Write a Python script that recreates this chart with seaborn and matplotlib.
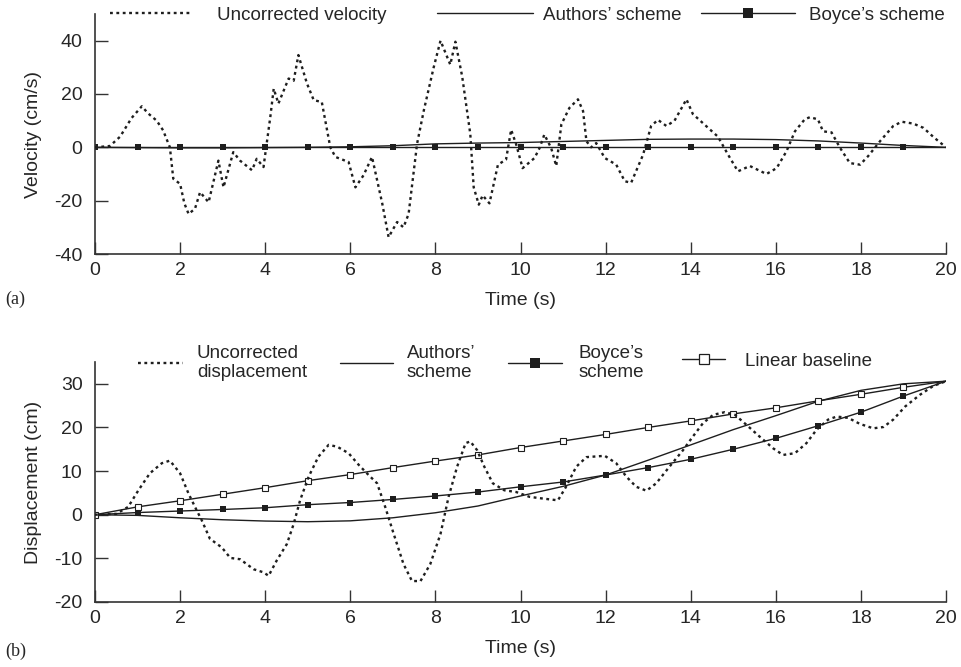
import matplotlib
matplotlib.use("Agg")
import matplotlib.pyplot as plt
import seaborn as sns
import pandas as pd
from matplotlib.lines import Line2D

# ---------------- data ----------------
vel_time = [0, 0.35, 0.59, 0.86, 1.1, 1.25, 1.45, 1.6, 1.76, 1.84, 2.0, 2.1, 2.2, 2.35, 2.47, 2.67,
            2.9, 3.02, 3.25, 3.41, 3.69, 3.8, 3.96, 4.12, 4.2, 4.31, 4.55, 4.67, 4.78, 4.98, 5.14,
            5.33, 5.53, 5.65, 5.96, 6.12, 6.31, 6.51, 6.75, 6.9, 7.1, 7.25, 7.37, 7.57, 7.73, 7.96,
            8.12, 8.35, 8.47, 8.63, 8.82, 8.9, 9.02, 9.11, 9.27, 9.47, 9.66, 9.78, 9.9, 10.05,
            10.33, 10.45, 10.56, 10.72, 10.84, 10.96, 11.15, 11.35, 11.47, 11.55, 11.66, 11.78,
            11.98, 12.25, 12.45, 12.6, 12.88, 13.07, 13.23, 13.43, 13.62, 13.9, 14.05, 14.41,
            14.64, 14.88, 15.11, 15.39, 15.78, 16.02, 16.25, 16.45, 16.68, 16.8, 16.99, 17.11,
            17.31, 17.51, 17.74, 17.98, 18.17, 18.45, 18.76, 18.96, 19.23, 19.47, 19.71, 20.0]
vel_uncorrected = [0, 0.5, 4, 11, 15.4, 12.7, 10, 6.4, 0, -11.8, -13.7, -21, -25, -23, -16.8, -20.6,
                   -5, -15, -1.8, -5, -8.6, -4.3, -7.4, 11.4, 22, 16.4, 25.8, 25, 34.6, 24, 17.7,
                   17, 0, -3.6, -5.5, -15, -10.5, -3.6, -21, -33.7, -28, -30, -25, 1.4, 14, 30,
                   40, 31, 39.6, 26.5, 5, -15, -21.5, -18, -21, -6.5, -4.6, 6.6, 1, -7.8,
                   -4, -0.2, 4.8, -0.2, -7, 8.6, 14.8, 18, 13.6, 2.3, 0, 1.6,
                   -4, -6.5, -12.7, -13.3, -2.8, 8, 10.3, 8, 10, 18, 12.5, 7.3,
                   4, -2.8, -9, -7, -10, -7.8, -1.5, 6, 10.5, 11.3, 10.5, 6,
                   5.6, -0.2, -5.9, -6.5, -3.3, 2.3, 8, 9.6, 8.9, 7.3, 3.8, 0]

int_time = [0, 1, 2, 3, 4, 5, 6, 7, 8, 9, 10, 11, 12, 13, 14, 15, 16, 17, 18, 19, 20]
vel_authors = [0, -0.1, -0.2, -0.2, -0.1, 0, 0.2, 0.6, 1.3, 1.6, 1.8, 2.2, 2.6, 3.0, 3.1, 3.1,
               2.9, 2.4, 1.6, 0.7, 0]
vel_boyce = [0, 0, 0, 0, 0, 0, 0, 0, 0, 0, 0, 0, 0, 0, 0, 0, 0, 0, 0, 0, 0]

disp_time = [0, 0.5, 0.78, 1.02, 1.29, 1.57, 1.76, 2.0, 2.2, 2.39, 2.51, 2.7, 2.98, 3.18, 3.41,
             3.73, 3.96, 4.08, 4.27, 4.51, 4.67, 4.82, 5.02, 5.25, 5.49, 5.69, 5.96, 6.2, 6.43,
             6.63, 6.82, 7.02, 7.25, 7.45, 7.65, 7.88, 8.12, 8.31, 8.51, 8.71, 8.82, 8.98, 9.15,
             9.35, 9.62, 9.9, 10.21, 10.53, 10.88, 11.07, 11.31, 11.55, 11.98, 12.25, 12.49,
             12.72, 12.96, 13.19, 13.5, 13.82, 14.05, 14.29, 14.53, 14.8, 15.04, 15.31, 15.62,
             15.94, 16.17, 16.45, 16.72, 16.96, 17.23, 17.43, 17.7, 17.98, 18.29, 18.53, 18.76,
             19.04, 19.39, 19.7, 20.0]
disp_uncorrected = [0, 0.2, 1.8, 5.6, 9.5, 11.8, 12.4, 9.5, 4.8, 1, -1.3, -5.5, -7.5, -9.9, -10.2,
                    -12.5, -13.2, -14, -10.5, -6.7, -2.1, 3.3, 8.7, 13.3, 16, 15.6, 14.1, 11.4, 9.1,
                    7.2, 1.8, -4.4, -11.3, -15.2, -15.2, -11.3, -4.4, 4.1, 11, 16.4, 16.8, 14.8, 11,
                    7.2, 5.6, 5.2, 4.1, 3.7, 3.3, 6.4, 11, 13.2, 13.5, 11.8, 8.7,
                    6.4, 5.5, 7.2, 11, 14.8, 17.9, 21, 22.9, 23.5, 22.9, 20.6, 17.9,
                    15.2, 13.7, 14.1, 16.4, 19.5, 21.8, 22.5, 22.2, 20.8, 19.8, 20.1, 21.8,
                    24.8, 27.5, 29.5, 30.6]
disp_authors = [0, -0.15, -0.7, -1.15, -1.45, -1.6, -1.4, -0.7, 0.45, 2.0, 4.3, 6.5, 9.1, 12.5,
                16.0, 19.5, 22.7, 26.0, 28.5, 30.0, 30.6]
disp_boyce = [0, 0.5, 0.85, 1.2, 1.6, 2.3, 2.8, 3.5, 4.3, 5.2, 6.4, 7.5, 9.1, 10.8, 12.7, 15.0,
              17.5, 20.4, 23.5, 27.2, 30.6]
disp_linear = [0, 1.8, 3.2, 4.7, 6.2, 7.8, 9.2, 10.8, 12.3, 13.7, 15.4, 16.9, 18.4, 20.0, 21.5,
               23.1, 24.5, 26.1, 27.6, 29.2, 30.6]

x_ticks = [0, 2, 4, 6, 8, 10, 12, 14, 16, 18, 20]
vel_ticks = [-40, -20, 0, 20, 40]
disp_ticks = [-20, -10, 0, 10, 20, 30]

# ---------------- style ----------------
sns.set_theme(style="ticks")
plt.rcParams["font.family"] = ["Liberation Sans", "DejaVu Sans"]
INK = "#1e1e1e"
TXT = "#262626"
FS = 13.5
AFS = 14

W, H = 961, 667
fig = plt.figure(figsize=(W / 100, H / 100), dpi=100)
fig.patch.set_facecolor("white")

def px_axes(left, top, right, bottom):
    return fig.add_axes([left / W, 1 - bottom / H, (right - left) / W, (bottom - top) / H])

ax_a = px_axes(95, 14, 946, 254)
ax_b = px_axes(95, 362, 946, 602)

DOT = (0, (1.2, 1.5))
DLW = 1.7
marks = list(range(20))

# panel (a)
sns.lineplot(x=vel_time, y=vel_uncorrected, ax=ax_a, color=INK, lw=DLW, linestyle=DOT,
             estimator=None, sort=False, zorder=3)
sns.lineplot(x=int_time, y=vel_authors, ax=ax_a, color=INK, lw=1.0, estimator=None, sort=False,
             zorder=2)
sns.lineplot(x=int_time, y=vel_boyce, ax=ax_a, color=INK, lw=1.0, marker="s", markersize=4.6,
             markevery=marks, markeredgewidth=0, markerfacecolor=INK, estimator=None, sort=False,
             zorder=2)

# panel (b)
sns.lineplot(x=disp_time, y=disp_uncorrected, ax=ax_b, color=INK, lw=DLW, linestyle=DOT,
             estimator=None, sort=False, zorder=3)
sns.lineplot(x=int_time, y=disp_authors, ax=ax_b, color=INK, lw=1.0, estimator=None, sort=False,
             zorder=2)
sns.lineplot(x=int_time, y=disp_boyce, ax=ax_b, color=INK, lw=1.0, marker="s", markersize=5.0,
             markevery=marks, markeredgewidth=0, markerfacecolor=INK, estimator=None, sort=False,
             zorder=2)
sns.lineplot(x=int_time, y=disp_linear, ax=ax_b, color=INK, lw=1.0, marker="s", markersize=4.0,
             markevery=marks, markeredgewidth=0.8, markerfacecolor="white", markeredgecolor=INK,
             estimator=None, sort=False, zorder=2)

for ax, ylim, yt, ylab in [(ax_a, (-40, 50), vel_ticks, "Velocity (cm/s)"),
                           (ax_b, (-20, 35), disp_ticks, "Displacement (cm)")]:
    ax.set_xlim(0, 20)
    ax.set_ylim(*ylim)
    ax.set_xticks(x_ticks)
    ax.set_yticks(yt)
    ax.set_xticklabels([str(v) for v in x_ticks])
    ax.set_yticklabels([str(v) for v in yt])
    ax.set_facecolor("white")
    ax.grid(False)
    for s in ["top", "right"]:
        ax.spines[s].set_visible(False)
    for s in ["left", "bottom"]:
        ax.spines[s].set_color("#333333")
        ax.spines[s].set_linewidth(1.2)
    ax.tick_params(direction="in", length=9, width=1.0, color="#333333", labelsize=AFS,
                   labelcolor=TXT)
    ax.tick_params(axis="x", pad=6)
    ax.tick_params(axis="y", pad=9)
    ax.set_xlabel("Time (s)", fontsize=AFS, color=TXT, labelpad=9)
    ax.set_ylabel(ylab, fontsize=AFS, color=TXT, labelpad=9)
    if ax.get_legend():
        ax.get_legend().remove()

fig.text(5 / W, 1 - 299 / H, "(a)", fontsize=13, family=["Liberation Serif"], color=TXT,
         va="center", ha="left")
fig.text(5 / W, 1 - 651 / H, "(b)", fontsize=13, family=["Liberation Serif"], color=TXT,
         va="center", ha="left")

# ---------------- legends (one entry each, positioned like the reference) ----------------
def entry(handle, label, x_px, y_px, hl_px, gap_px):
    fpx = FS * 100 / 72
    fig.legend([handle], [label], loc="center left",
               bbox_to_anchor=(x_px / W, 1 - y_px / H), frameon=False, borderpad=0,
               borderaxespad=0, handlelength=hl_px / fpx, handletextpad=gap_px / fpx,
               fontsize=FS, labelcolor=TXT, handleheight=0.7)

h_dot = Line2D([], [], color=INK, lw=DLW, linestyle=DOT)
h_sol = Line2D([], [], color=INK, lw=1.0)
h_boy_a = Line2D([], [], color=INK, lw=1.0, marker="s", markersize=6.5, markeredgewidth=0)
h_boy_b = Line2D([], [], color=INK, lw=1.0, marker="s", markersize=7.5, markeredgewidth=0)
h_lin = Line2D([], [], color=INK, lw=1.0, marker="s", markersize=7.5, markeredgewidth=0.9,
               markerfacecolor="white", markeredgecolor=INK)

entry(h_dot, "Uncorrected velocity", 110, 15, 80, 27)
entry(h_sol, "Authors\u2019 scheme", 437, 15, 96, 10)
entry(h_boy_a, "Boyce\u2019s scheme", 701, 15, 94, 14)

entry(h_dot, "Uncorrected\ndisplacement", 138, 363, 45, 14)
entry(h_sol, "Authors\u2019\nscheme", 340, 363, 53, 14)
entry(h_boy_b, "Boyce\u2019s\nscheme", 508, 363, 54, 17)
entry(h_lin, "Linear baseline", 682, 361, 43, 20)

fig.savefig("out.png", dpi=100, facecolor="white")
